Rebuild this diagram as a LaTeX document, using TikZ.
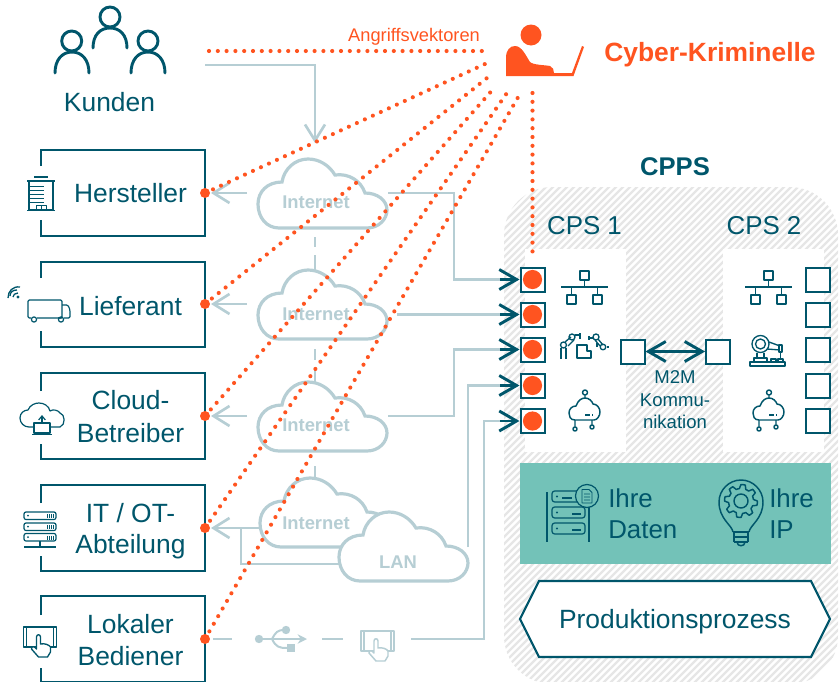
\documentclass[tikz,border=0pt]{standalone}
\usepackage{fontspec}
\setmainfont{Liberation Sans}
\usetikzlibrary{arrows.meta}
\definecolor{dk}{HTML}{00566B}
\definecolor{org}{HTML}{FF5420}
\definecolor{lt}{HTML}{B6CED4}
\definecolor{tl}{HTML}{73C2B8}
\definecolor{hat}{HTML}{E6E6E6}
\newcommand{\fnt}[1]{\fontsize{#1}{#1}\selectfont}
\tikzset{
  x=0.75pt,y=-0.75pt,
  txt/.style={anchor=base,text=dk,inner sep=0pt,font=\fnt{19.8}},
  ltxt/.style={anchor=base,text=lt,inner sep=0pt,font=\fnt{13.8}\bfseries},
  frame/.style={draw=dk,line width=1.5pt},
  conn/.style={draw=lt,line width=2.1pt,line join=miter},
  ltip/.style={-{Straight Barb[length=12pt,width=15pt,line width=2pt]}},
  dtip/.style={draw=dk,line width=2.2pt,-{Straight Barb[length=13pt,width=15pt,line width=2.2pt]}},
  atk/.style={draw=org,line width=3.1pt,line cap=round,dash pattern=on 0pt off 6.6pt},
  port/.style={circle,fill=org,inner sep=0pt,minimum size=7.5pt},
  sq/.style={rectangle,draw=dk,fill=white,line width=1.5pt,minimum size=18pt,inner sep=0pt},
  ic/.style={draw=dk,line width=0.9pt,line join=round},
  icl/.style={draw=lt,line width=1pt,line join=round},
  cld/.style={draw=lt,fill=white,line width=2.4pt},
}
\newcommand{\cloudpath}[2]{% #1 x, #2 y origin, width 130 height 69
  \path[cld,shift={(#1,#2)}] (25,23) .. controls (10,23) and (1,33) .. (1,45)
   .. controls (1,59) and (10,69) .. (22,69) -- (110,69)
   .. controls (122,69) and (130,60) .. (130,51)
   .. controls (130,41) and (120,34) .. (108,34)
   .. controls (104,22) and (92,14) .. (78,16)
   .. controls (72,6) and (62,0) .. (51,0)
   .. controls (38,0) and (27,10) .. (25,23) -- cycle;}
\newcommand{\netic}[1]{\begin{scope}[shift={(#1,0)}]
  \draw[ic,line width=1.1pt] (561,287)--(608,287) (584.5,280)--(584.5,287) (571.5,287)--(571.5,295) (597.5,287)--(597.5,295);
  \draw[ic,line width=1.1pt] (580,271) rectangle (589,280) (567,295) rectangle (576,304) (593,295) rectangle (602,304);
\end{scope}}
\newcommand{\iotic}[1]{\begin{scope}[shift={(#1,0)}]
  \draw[ic,line width=1.1pt] (575,420) .. controls (570,420) and (569,416) .. (569,413) .. controls (569,409) and (572,406) .. (576,406) .. controls (578,400) and (582,398) .. (585,398) .. controls (589,398) and (592,401) .. (593,404) .. controls (597,404) and (600,408) .. (600,412) .. controls (600,416) and (597,420) .. (594,420) -- cycle;
  \draw[ic,line width=1.1pt] (585,398)--(585,395) (585,392.5) circle[radius=2.5]
   (575,420)--(575,427) (575,429) circle[radius=2] (592,420)--(592,425) (592,427) circle[radius=2];
  \draw[ic,line width=1pt] (585,415)--(590,415) (592,415)--(593,415);
\end{scope}}
\newcommand{\handic}[3]{\begin{scope}[shift={(#1,#2)}]
  \draw[#3,fill=white] (0,0) rectangle (33,20);
  \draw[#3] (3,0)--(3,20) (30,0)--(30,20);
  \draw[#3,fill=white] (13,10) .. controls (13,7) and (17,7) .. (17,10) -- (17,17) .. controls (21,16) and (26,18) .. (27,20) -- (27,25) -- (24,30) -- (15,30) -- (8,22) .. controls (8,19) and (11,19) .. (13,22) -- cycle;
\end{scope}}
\begin{document}
\begin{tikzpicture}
\useasboundingbox (0,0) rectangle (840,682);
% hatched CPPS area
\begin{scope}
  \clip[rounded corners=36pt] (504,187) rectangle (838,684);
  \foreach \i in {691,698,...,1530}{
    \draw[hat,line width=1.7pt] (\i-700,700)--(\i-180,180);
  }
\end{scope}
\fill[white] (525,249) rectangle (626,452);
\fill[white] (723,249) rectangle (824,452);

% named anchor coordinates
\coordinate (kundenout) at (205,65);
\coordinate (kundenkink) at (315,65);
\coordinate (kundenin) at (315,143);
\coordinate (h) at (205,193);
\coordinate (l) at (205,304);
\coordinate (c) at (205,416);
\coordinate (i) at (205,528);
\coordinate (b) at (205,639);
\coordinate (attacker) at (487,51);

% frames
\foreach \t/\bb/\ga/\gb in {150/236/166/220,262/347/278/331,373/459/391/444,485/571/503/556,596/682/615/668}{
  \draw[frame] (40.5,\ga)--(40.5,\t)--(205,\t)--(205,\bb)--(40.5,\bb)--(40.5,\gb);
}

% Text left
\node[txt] (tkunden) at (109.5,111) {Kunden};
\node[txt] (thersteller) at (130.5,202) {Hersteller};
\node[txt] (tlieferant) at (130.5,315) {Lieferant};
\node[txt] (tcloud) at (130.5,409) {Cloud-};
\node[txt] (tbetreiber) at (130.5,442) {Betreiber};
\node[txt] (tit) at (130.5,522) {IT / OT-};
\node[txt] (tabt) at (130.5,553) {Abteilung};
\node[txt] (tlokal) at (130.5,633) {Lokaler};
\node[txt] (tbed) at (130.5,665) {Bediener};

% light connectors
\draw[conn] (kundenout)--(kundenkink)--(315,127);
\draw[conn,ltip] (315,127)--(kundenin);
\foreach \y in {193,304,416}{\draw[conn,ltip] (247,\y)--(211,\y);}
\draw[conn,ltip] (259,528)--(211,528);
\draw[conn,line width=1.5pt] (241,528)--(241,564)--(340,564);
\foreach \a/\b in {237/247,255/270,349/360,367/382,466/478}{
  \draw[conn,line width=1.5pt] (315,\a)--(315,\b);
}

% clouds
\cloudpath{257}{159}
\cloudpath{257}{270}
\cloudpath{257}{382}
\cloudpath{259}{478}
\cloudpath{338}{512}
\node[ltxt] (inet1) at (316,208) {Internet};
\node[ltxt] (inet2) at (316,320) {Internet};
\node[ltxt] (inet3) at (316,431) {Internet};
\node[ltxt] (inet4) at (316,529) {Internet};
\node[ltxt] (lan) at (398,568) {LAN};

% squares left and right
\node[sq] (s1) at (532.5,279.5) {};
\node[sq] (s2) at (532.5,314.5) {};
\node[sq] (s3) at (532.5,349.5) {};
\node[sq] (s4) at (532.5,385.5) {};
\node[sq] (s5) at (532.5,421) {};
\foreach \n in {s1,s2,s3,s4,s5}{\fill[org] (\n) circle[radius=9.6];}
\node[sq] (r1) at (817.5,279.5) {};
\node[sq] (r2) at (817.5,314.5) {};
\node[sq] (r3) at (817.5,349.5) {};
\node[sq] (r4) at (817.5,385.5) {};
\node[sq] (r5) at (817.5,421) {};
\node[sq] (m1) at (632.5,351.5) {};
\node[sq] (m2) at (718,351.5) {};
\draw[draw=dk,line width=2.2pt,{Straight Barb[length=13pt,width=15pt,line width=2.2pt]}-{Straight Barb[length=13pt,width=15pt,line width=2.2pt]}] (m1.east)--(m2.west);

% connectors to CPS 1
\draw[conn] (388,193)--(454,193)--(454,279.5)--(500,279.5);
\draw[conn] (397,314.5)--(500,314.5);
\draw[conn] (388,416)--(454,416)--(454,349.5)--(500,349.5);
\draw[conn] (468,547)--(468,385.5)--(500,385.5);
\draw[conn] (213,639)--(232,639) (322,639)--(343,639);
\draw[conn] (411,639)--(484,639)--(484,421)--(500,421);
\foreach \n in {s1,s2,s3,s4,s5}{\draw[dtip] (\n.west -| 500,0)--(\n.west);}

% usb
\fill[lt] (259,639) circle[radius=4.2];
\draw[icl,line width=1.5pt,-{Stealth[length=7pt,width=7pt]}] (259,639)--(307,639);
\draw[icl,line width=1.5pt] (272,639) .. controls (276,632) and (277,630) .. (285,630);
\draw[icl,line width=1.5pt] (272,639) .. controls (276,647) and (279,648) .. (287,648);
\fill[lt] (286,630) circle[radius=4.2];
\fill[lt] (287,644) rectangle (295,652);
\handic{361}{631}{icl,line width=1.1pt}

% Kunden icon
\begin{scope}[dk,line width=2.2pt,line cap=round]
 \draw (71.7,41) circle[radius=10];
 \draw (55,73) .. controls (55,60) and (62,52) .. (72,52) .. controls (82,52) and (89,60) .. (89,73);
 \draw (110,17) circle[radius=10];
 \draw (93,48) .. controls (93,35) and (100,28) .. (110,28) .. controls (120,28) and (127,35) .. (127,48);
 \draw (148,41) circle[radius=10];
 \draw (131,73) .. controls (131,60) and (138,52) .. (148,52) .. controls (158,52) and (165,60) .. (165,73);
\end{scope}

% Building
\begin{scope}
 \draw[ic] (34,177)--(48,177);
 \draw[ic,line width=1.2pt] (27,181)--(55,181);
 \draw[ic,fill=white] (29,181) rectangle (53,210);
 \draw[ic,line width=0.7pt] (30,186)--(44,186) (30,190)--(44,190) (30,194)--(44,194) (30,198)--(44,198) (30,202)--(44,202);
 \draw[ic,line width=0.7pt] (36,210)--(36,205)--(46,205)--(46,210) (41,205)--(41,210);
 \draw[ic,line width=1.1pt] (27,210.5)--(55,210.5);
\end{scope}

% Truck with signal
\draw[ic,rounded corners=1pt] (31,318)--(28,318)--(28,300)--(62,300)--(62,318)--(37,318);
\draw[ic,rounded corners=1pt] (62,305)--(68,305)--(70,310)--(70,318)--(64,318) (58,318)--(62,318);
\draw[ic] (34,319.5) circle[radius=2.6] (61,319.5) circle[radius=2.6];
\fill[dk] (18,297) circle[radius=1.6];
\draw[dk,line width=1pt] (10,296) .. controls (10,292) and (13,290) .. (17,290);
\draw[dk,line width=1pt] (13,297) .. controls (13,295) and (15,293) .. (18,293);
\draw[dk,line width=1pt] (8,298) .. controls (8,291) and (13,286) .. (20,287);

% Cloud upload
\draw[ic] (33,427) -- (29,427) .. controls (24,427) and (20,423) .. (20,418) .. controls (20,413) and (24,410) .. (28,410) .. controls (30,405) and (35,403) .. (39,403) .. controls (44,403) and (49,406) .. (50,411) .. controls (53,409) and (58,410) .. (60,413) .. controls (65,414) and (66,425) .. (60,427) -- (50,427);
\draw[ic,fill=white] (34,423) rectangle (50,433);
\draw[ic] (32,434.5)--(52,434.5);
\draw[ic,-{Straight Barb[length=3pt,width=5pt]}] (42,423)--(42,415);

% Servers
\foreach \y in {512,523,533.5}{
 \draw[ic,rounded corners=1.5pt] (24,\y) rectangle (56,\y+7.5);
 \fill[dk] (28,\y+3.5) circle[radius=1];
 \draw[dk,line width=0.5pt] (47,\y+2)--(47,\y+6) (49,\y+2)--(49,\y+6) (51,\y+2)--(51,\y+6) (53,\y+2)--(53,\y+6);
}
\draw[ic] (24,547)--(56,547) (40,541)--(40,547);

% Tablet hand
\handic{23.5}{627}{ic,line width=1pt}

% attack lines
\draw[atk] (209,51)--(attacker);
\draw[atk] (h)--(485,64);
\draw[atk] (l)--(487,78);
\draw[atk] (c)--(495,87);
\draw[atk] (i)--(509,90);
\draw[atk] (b)--(520.5,93);
\draw[atk] (532.5,93)--(s1.north |- 0,258);
\node[port] (ph) at (h) {};
\node[port] (pl) at (l) {};
\node[port] (pc) at (c) {};
\node[port] (pi) at (i) {};
\node[port] (pb) at (b) {};

% attacker icon
\fill[org] (531,35) circle[radius=10.5];
\fill[org] (506,76)--(506,58) .. controls (506,50) and (510,46) .. (515,46) .. controls (522,46) and (526,56) .. (530,62) .. controls (533,65) and (545,65) .. (550,66) .. controls (553,67) and (554,70) .. (554,73) -- (572,73) -- (582,46) -- (584,47) -- (573.5,76) -- cycle;

\node[anchor=base,text=org,inner sep=0pt,font=\fnt{13.7}] (avlabel) at (414,41) {Angriffsvektoren};
\node[anchor=base,text=org,inner sep=0pt,font=\fnt{19.8}\bfseries] (cyber) at (710,61) {Cyber-Kriminelle};
\node[anchor=base,text=dk,inner sep=0pt,font=\fnt{19.2}\bfseries] (cpps) at (675,175) {CPPS};
\node[txt,font=\fnt{19.4}] (cps1) at (584.5,234) {CPS 1};
\node[txt,font=\fnt{19.4}] (cps2) at (764,234) {CPS 2};
\node[txt,font=\fnt{13.9}] (m2m) at (675,383) {M2M};
\node[txt,font=\fnt{13.9}] (kom) at (675,406) {Kommu-};
\node[txt,font=\fnt{13.9}] (nik) at (675,428) {nikation};

% icons in CPS
\netic{0}\netic{184}
\iotic{0}\iotic{184}
% robots CPS1
\begin{scope}[ic,line width=1pt]
 \draw (561,359)--(561,348) (566,359)--(566,348);
 \draw (563.5,345) circle[radius=3];
 \draw (565,342)--(571,337) (568,346)--(574,340);
 \draw (572,337) circle[radius=3];
 \draw (575,335)--(580,335) (580,333)--(580,339);
 \draw (577,345)--(577,358)--(591,358)--(591,351)--(587,351)--(587,345)--cycle;
 \draw (593,338)--(589,338) (589,336)--(589,340);
 \draw (596,337) circle[radius=3];
 \draw (598,339)--(603,345) (595,340)--(600,346);
 \draw (603,347) circle[radius=2.8];
 \draw (597,347)--(597,343) (607,347)--(609,347);
\end{scope}
% robot CPS2
\begin{scope}[ic,line width=1pt]
 \draw (760.5,344) circle[radius=8.5];
 \draw (760.5,344) circle[radius=5];
 \draw (769,342)--(780,346) (767,349)--(780,350);
 \draw (779,345) rectangle (782,352);
 \draw (780.5,352)--(780.5,358);
 \draw (757,353)--(757,358) (764,353)--(764,358) (754,358)--(767,358)--(767,362)--(754,362)--cycle;
 \draw (750,362) rectangle (785,366);
 \draw (771,359) rectangle (776,362) (778,359) rectangle (783,362);
\end{scope}

% teal box
\fill[tl] (520,463) rectangle (831,564);
\node[txt,font=\fnt{19.4},anchor=base west] (ihre1) at (608,507) {Ihre};
\node[txt,font=\fnt{19.4},anchor=base west] (daten) at (608,538) {Daten};
\node[txt,font=\fnt{19.4},anchor=base west] (ihre2) at (769,507) {Ihre};
\node[txt,font=\fnt{19.4},anchor=base west] (ip) at (769,538) {IP};
% server+doc
\begin{scope}[ic]
 \draw (547,492)--(547,542) (589,505)--(589,542);
 \foreach \y in {491,507,523}{
  \draw[rounded corners=2pt] (552,\y) rectangle (585,\y+11);
  \fill[dk] (557,\y+5.5) circle[radius=1.2];
 }
 \draw (572,530)--(581,530) (572,514)--(581,514);
 \draw (562,498)--(572,498);
 \draw[fill=tl] (587,496) circle[radius=11.5];
 \draw[line width=0.6pt] (582,489.5)--(589,489.5)--(592,492.5)--(592,503)--(582,503)--cycle (584,494)--(590,494) (584,497)--(590,497) (584,500)--(590,500);
\end{scope}
% bulb with gear
\begin{scope}[ic,line width=1.1pt]
 \draw (733,532) .. controls (732,525) and (719,519) .. (719,502) .. controls (719,490) and (729,480) .. (741,480) .. controls (753,480) and (763,490) .. (763,502) .. controls (763,519) and (750,525) .. (749,532);
 \draw (733,532)--(749,532) (734,537)--(748,537) (734,542)--(748,542) (734,532)--(734,542) (748,532)--(748,542);
 \draw (737,542) .. controls (737,547) and (745,547) .. (745,542);
 \draw (741,501) circle[radius=7];
 \draw plot[domain=0:360,samples=49,smooth=false] ({741+(14.5+2*((mod(int(\x/7.5),6)<3)?1:-1))*cos(\x)},{501+(14.5+2*((mod(int(\x/7.5),6)<3)?1:-1))*sin(\x)});
\end{scope}
% process hexagon
\draw[frame,fill=white,line width=1.6pt] (520,619)--(539,581)--(811,581)--(830,619)--(811,657)--(539,657)--cycle;
\node[txt] (prod) at (675,628) {Produktionsprozess};
\end{tikzpicture}
\end{document}
